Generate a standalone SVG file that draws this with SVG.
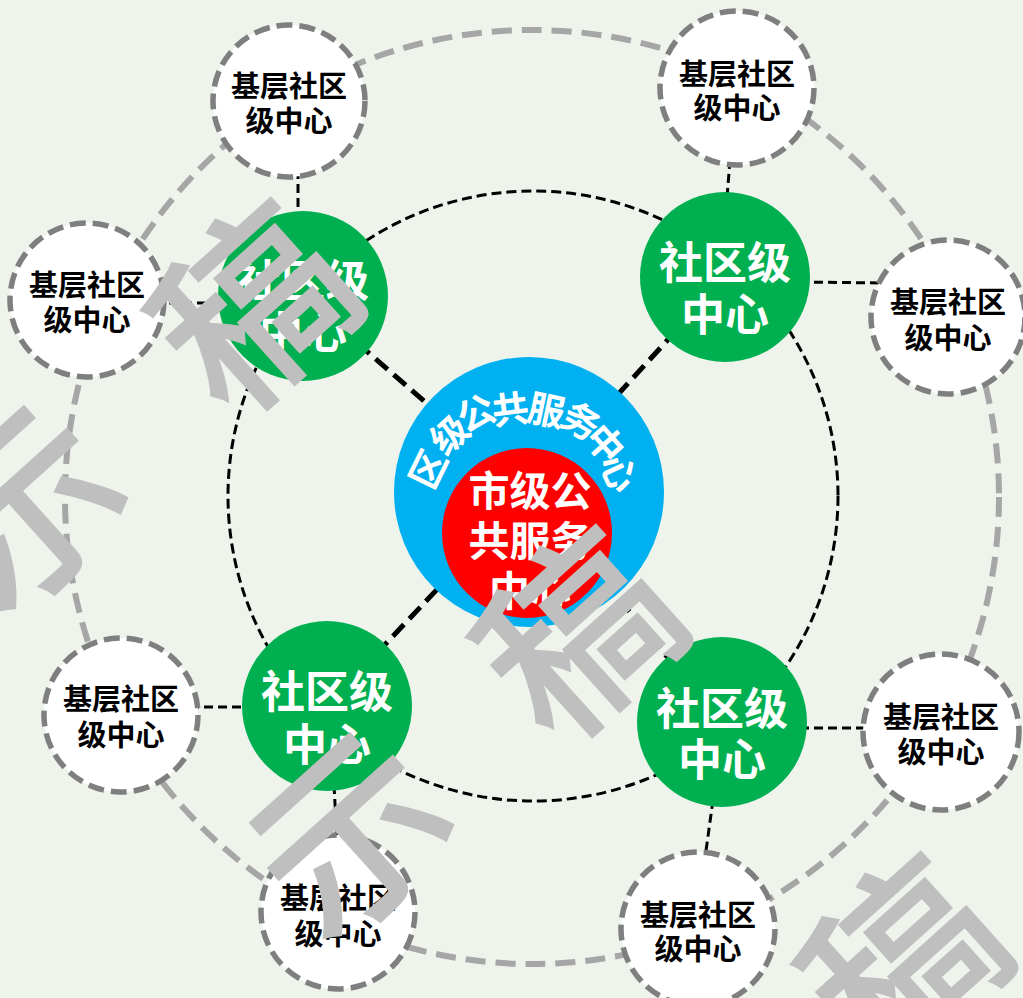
<svg xmlns="http://www.w3.org/2000/svg" width="1023" height="998" viewBox="0 0 1023 998">
<style>
text{font-family:"Noto Sans CJK SC","Microsoft YaHei","Noto Sans",sans-serif;font-weight:bold;text-anchor:middle;dominant-baseline:central}
.ring-outer{fill:none;stroke:#A6A6A6;stroke-width:6;stroke-dasharray:20 10}
.ring-inner{fill:none;stroke:#000;stroke-width:3;stroke-dasharray:10 5}
.link-thick{stroke:#000;stroke-width:5;stroke-dasharray:16 8}
.link{stroke:#000;stroke-width:3;stroke-dasharray:9 5}
.basic circle{fill:#fff;stroke:#7F7F7F;stroke-width:5.5;stroke-dasharray:16 7}
.basic text{fill:#000;font-size:29px}
.comm circle{fill:#00B050}
.comm text{fill:#fff;font-size:44px}
.arc text{fill:#fff;font-size:37px}
.city text{fill:#fff;font-size:41px}
.wm text{fill:#BFBFBF;font-weight:normal;font-size:188px;stroke:#BFBFBF;stroke-width:4}
</style>
<rect width="1023" height="998" fill="#EEF4EC"/>
<g id="connectors">
<circle class="ring-outer" cx="532" cy="497" r="467"/>
<circle class="ring-inner" cx="533" cy="496" r="305"/>
<line class="link-thick" x1="303" y1="296" x2="529" y2="492"/>
<line class="link-thick" x1="725" y1="277" x2="529" y2="492"/>
<line class="link-thick" x1="327" y1="706" x2="529" y2="492"/>
<line class="link-thick" x1="722" y1="722" x2="529" y2="492"/>
<line class="link" x1="298" y1="170" x2="298" y2="215"/>
<line class="link" x1="155" y1="303" x2="225" y2="303"/>
<line class="link" x1="730" y1="160" x2="727" y2="198"/>
<line class="link" x1="800" y1="282" x2="885" y2="283"/>
<line class="link" x1="190" y1="707" x2="250" y2="707"/>
<line class="link" x1="334" y1="785" x2="337" y2="840"/>
<line class="link" x1="800" y1="728" x2="870" y2="728"/>
<line class="link" x1="713" y1="800" x2="705" y2="858"/>
</g>
<g id="basic-tl" class="basic"><circle cx="289" cy="101" r="76"/><text x="289" y="84">基层社区</text><text x="289" y="119">级中心</text></g>
<g id="basic-tr" class="basic"><circle cx="737" cy="88" r="77"/><text x="737" y="72">基层社区</text><text x="737" y="106">级中心</text></g>
<g id="basic-l" class="basic"><circle cx="87" cy="300" r="77"/><text x="87" y="283">基层社区</text><text x="87" y="318">级中心</text></g>
<g id="basic-r" class="basic"><circle cx="948" cy="317" r="77"/><text x="948" y="300">基层社区</text><text x="948" y="336">级中心</text></g>
<g id="basic-lb" class="basic"><circle cx="121" cy="715" r="77"/><text x="121" y="697">基层社区</text><text x="121" y="733">级中心</text></g>
<g id="basic-rb" class="basic"><circle cx="941" cy="732" r="78"/><text x="941" y="715">基层社区</text><text x="941" y="750">级中心</text></g>
<g id="basic-bl" class="basic"><circle cx="338" cy="912" r="77"/><text x="338" y="896">基层社区</text><text x="338" y="932">级中心</text></g>
<g id="basic-br" class="basic"><circle cx="698" cy="929" r="77"/><text x="698" y="913">基层社区</text><text x="698" y="947">级中心</text></g>
<g id="comm-tl" class="comm"><circle cx="303" cy="296" r="85"/><text x="303" y="278">社区级</text><text x="303" y="330">中心</text></g>
<g id="comm-tr" class="comm"><circle cx="725" cy="277" r="85"/><text x="725" y="260">社区级</text><text x="725" y="312">中心</text></g>
<g id="comm-bl" class="comm"><circle cx="327" cy="706" r="85"/><text x="327" y="689">社区级</text><text x="327" y="742">中心</text></g>
<g id="comm-br" class="comm"><circle cx="722" cy="722" r="85"/><text x="722" y="706">社区级</text><text x="722" y="757">中心</text></g>
<g id="district">
<circle cx="529" cy="492" r="135" fill="#00B0F0"/>
<g class="arc">
<text transform="translate(426,468) rotate(-63.9)">区</text>
<text transform="translate(448,433) rotate(-42.5)">级</text>
<text transform="translate(475,411) rotate(-25)">公</text>
<text transform="translate(510,407) rotate(-7.3)">共</text>
<text transform="translate(547,408) rotate(12)">服</text>
<text transform="translate(582,419) rotate(30.9)">务</text>
<text transform="translate(607,442) rotate(48.3)">中</text>
<text transform="translate(621,472) rotate(65.6)">心</text>
</g>
</g>
<g id="city" class="city">
<circle cx="527" cy="533" r="85" fill="#FF0000"/>
<text x="530" y="488">市级公</text>
<text x="530" y="538">共服务</text>
<text x="530" y="588">中心</text>
</g>
<g id="watermark" class="wm">
<text transform="translate(16,498) rotate(-42)">示</text>
<text transform="translate(245,298) rotate(-42)">稿</text>
<text transform="translate(342,825) rotate(-42)">示</text>
<text transform="translate(570,625) rotate(-42)">稿</text>
<text transform="translate(895,952) rotate(-42)">稿</text>
</g>
</svg>
